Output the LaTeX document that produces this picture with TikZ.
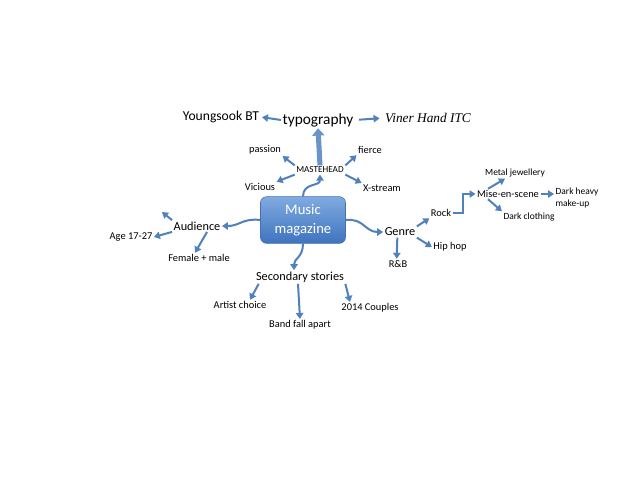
\documentclass[tikz,border=0pt]{standalone}
\usepackage{fontspec}
\setmainfont{Carlito}
\newfontfamily\vinerfont{Liberation Serif}
\usetikzlibrary{arrows.meta}

\definecolor{mapblue}{RGB}{79,129,189}
\definecolor{boxlight}{RGB}{128,170,225}
\definecolor{boxdark}{RGB}{62,116,190}
\definecolor{boxedge}{RGB}{72,112,172}

\tikzset{
  link/.style={mapblue, line width=1.5pt, -{Triangle[length=4.5pt,width=5.5pt]}},
  big/.style={inner sep=1pt, font=\fontsize{11.5}{13}\selectfont},
  mid/.style={inner sep=1pt, font=\fontsize{9.2}{11}\selectfont},
  small/.style={inner sep=1pt, font=\fontsize{7.8}{9}\selectfont},
  tiny/.style={inner sep=1pt, font=\fontsize{7.1}{8.5}\selectfont},
}

\begin{document}
\begin{tikzpicture}[x=0.75pt, y=-0.75pt]
            \useasboundingbox[fill=white] (0,0) rectangle (638,479);

            \node[draw=boxedge, top color=boxlight, bottom color=boxdark, rounded corners=4.5pt, minimum width=63.75pt, minimum height=35pt, text=white, align=center, font=\fontsize{11}{14}\selectfont] (magazine) at (303,220) {Music\\magazine};

            \node[big] (typo) at (318,120) {typography};
            \node[inner sep=1pt, font=\fontsize{10.2}{12}\selectfont] (young) at (221,117) {Youngsook BT};
            \node[inner sep=1pt, font=\vinerfont\itshape\fontsize{10}{12}\selectfont] (viner) at (428,118) {Viner Hand ITC};
            \node[inner sep=1pt, font=\fontsize{6.9}{8}\selectfont] (mast) at (320,170) {MASTEHEAD};
            \node[small] (passion) at (265,150) {passion};
            \node[small] (fierce) at (370,150) {fierce};
            \node[small] (vicious) at (260,187) {Vicious};
            \node[small] (xstream) at (382,188) {X-stream};

            \node[mid] (audience) at (197,226) {Audience};
            \node[small] (age) at (131,237) {Age 17-27};
            \node[small] (female) at (199,258) {Female + male};
            \coordinate (audup) at (162,212);

            \node[mid] (secondary) at (300,277) {Secondary stories};
            \node[small] (artist) at (240,305) {Artist choice};
            \node[small] (band) at (300,325) {Band fall apart};
            \node[small] (couples) at (370,308) {2014 Couples};

            \node[mid] (genre) at (400,232) {Genre};
            \node[small] (rnb) at (398,264) {R\&B};
            \node[small] (hiphop) at (450,247) {Hip hop};
            \node[small] (rock) at (441,213) {Rock};
            \node[small] (mise) at (508,194) {Mise-en-scene};
            \node[tiny] (metal) at (515,173) {Metal jewellery};
            \node[tiny, align=left, anchor=west] (heavy) at (554,198) {Dark heavy\\make-up};
            \node[tiny] (clothing) at (529,217) {Dark clothing};

            \draw[mapblue!85!white, line width=3.8pt, -{Triangle[length=5.5pt,width=9pt]}] (mast.north) -- (typo.south);
            \draw[link, shorten >=1pt] (typo.west) -- (young.east);
            \draw[link, shorten <=3pt, shorten >=3pt] (typo.east) -- (viner.west);
            \draw[link] (mast.north west) -- (passion.south east);
            \draw[link] (mast.north east) -- (fierce.south west);
            \draw[link] (mast.south west) -- (vicious.north east);
            \draw[link] (mast.south east) -- (xstream.north west);

            \draw[link] (magazine.north) .. controls +(0,-14) and +(0,12) .. (mast.south);
            \draw[link] (magazine.west) .. controls +(-18,-2) and +(18,0) .. (audience.east);
            \draw[link] (magazine.south) .. controls +(0,14) and +(0,-12) .. ([xshift=-4.5pt]secondary.north);
            \draw[link] (magazine.east) .. controls +(18,-2) and +(-18,0) .. (genre.west);

            \draw[link] (audience.north west) -- (audup);
            \draw[link] (audience.south west) -- (age.east);
            \draw[link] ([xshift=7.5pt]audience.south) -- ([xshift=-3pt]female.north);

            \draw[link] ([xshift=-31pt]secondary.south) -- ([xshift=7.5pt]artist.north);
            \draw[link] ([xshift=-1.5pt]secondary.south) -- (band.north);
            \draw[link] ([xshift=34pt]secondary.south) -- ([xshift=-15pt]couples.north);

            \draw[link] ([xshift=-2pt]genre.south) -- ([xshift=-1pt]rnb.north);
            \draw[link] (genre.south east) -- (hiphop.west);
            \draw[link] (genre.north east) -- (rock.south west);
            \draw[link] (rock.east) -- ++(10,0) |- (mise.west);
            \draw[link] ([xshift=-15pt]mise.north) -- ([xshift=-7.5pt]metal.south);
            \draw[link] (mise.east) -- (mise.east -| heavy.west);
            \draw[link] ([xshift=-15pt]mise.south) -- (clothing.north west);
        \end{tikzpicture}
\end{document}
